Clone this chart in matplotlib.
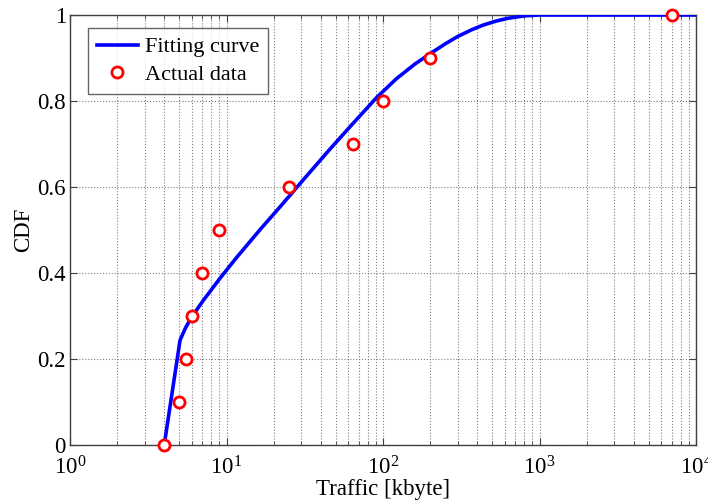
import matplotlib
matplotlib.use("Agg")
import matplotlib.pyplot as plt
from matplotlib.ticker import LogLocator, FixedLocator, FuncFormatter, NullFormatter

plt.rcParams['font.family'] = ['Liberation Serif', 'DejaVu Serif']
plt.rcParams['mathtext.fontset'] = 'custom'
plt.rcParams['mathtext.rm'] = 'Liberation Serif'
plt.rcParams['mathtext.it'] = 'Liberation Serif:italic'

# Fitting curve
fit_x = [4, 5.05, 5.5, 6.0, 7.1, 9.1, 11.6, 16.4, 22, 31, 45.8, 61.5, 91, 122, 160,
         200, 250, 300, 370, 440, 530, 620, 800, 1000, 10000]
fit_y = [0, 0.244, 0.274, 0.298, 0.336, 0.388, 0.436, 0.501, 0.554, 0.617, 0.688,
         0.740, 0.808, 0.852, 0.886, 0.910, 0.933, 0.950, 0.966, 0.977, 0.986, 0.992,
         0.998, 1.0, 1.0]

# Actual data
data_x = [4, 5, 5.5, 6, 7, 9, 25, 64, 100, 200, 7000]
data_y = [0, 0.1, 0.2, 0.3, 0.4, 0.5, 0.6, 0.7, 0.8, 0.9, 1.0]

y_ticks = [0, 0.2, 0.4, 0.6, 0.8, 1.0]

fig = plt.figure(figsize=(7.08, 5.04), dpi=100)
ax = fig.add_axes([70/708, 59/504, 626/708, 430/504])

ax.plot(fit_x, fit_y, color='#0000ff', lw=2.6, label='Fitting curve', zorder=3,
        solid_joinstyle='round')
ax.plot(data_x, data_y, linestyle='none', marker='o', markersize=8,
        markerfacecolor='white', markeredgecolor='#ff0000', markeredgewidth=2,
        label='Actual data', zorder=4, clip_on=False)

ax.set_xscale('log')
ax.set_xlim(1, 1e4)
ax.set_ylim(0, 1)
ax.xaxis.set_major_locator(LogLocator(base=10, numticks=10))
ax.xaxis.set_minor_locator(LogLocator(base=10, subs=range(2, 10), numticks=50))
ax.xaxis.set_minor_formatter(NullFormatter())
ax.yaxis.set_major_locator(FixedLocator(y_ticks))
ax.yaxis.set_major_formatter(FuncFormatter(lambda v, p: ('%g' % v)))

ax.grid(True, which='major', axis='both', linestyle=':', color='#808080', lw=0.8)
ax.grid(True, which='minor', axis='x', linestyle=':', color='#808080', lw=0.8)

ax.tick_params(which='both', direction='in', top=True, right=True, color='#404040')
ax.tick_params(which='major', length=5, labelsize=16.5)
ax.tick_params(axis='x', which='major', pad=8)
ax.tick_params(axis='y', which='major', pad=3)
ax.tick_params(which='minor', length=3)
for s in ax.spines.values():
    s.set_color('#404040')
    s.set_linewidth(1.0)

ax.set_xlabel('Traffic [kbyte]', fontsize=16.5, labelpad=0)
ax.set_ylabel('CDF', fontsize=16.5, labelpad=2)

leg = ax.legend(loc='upper left', bbox_to_anchor=(18/626, 417/430), borderaxespad=0,
                fontsize=16, frameon=True, fancybox=False,
                edgecolor='#404040', handlelength=1.85, borderpad=0.4,
                labelspacing=0.3, handletextpad=0.3)
leg.get_frame().set_linewidth(1.0)

fig.savefig('out.png', dpi=100)
